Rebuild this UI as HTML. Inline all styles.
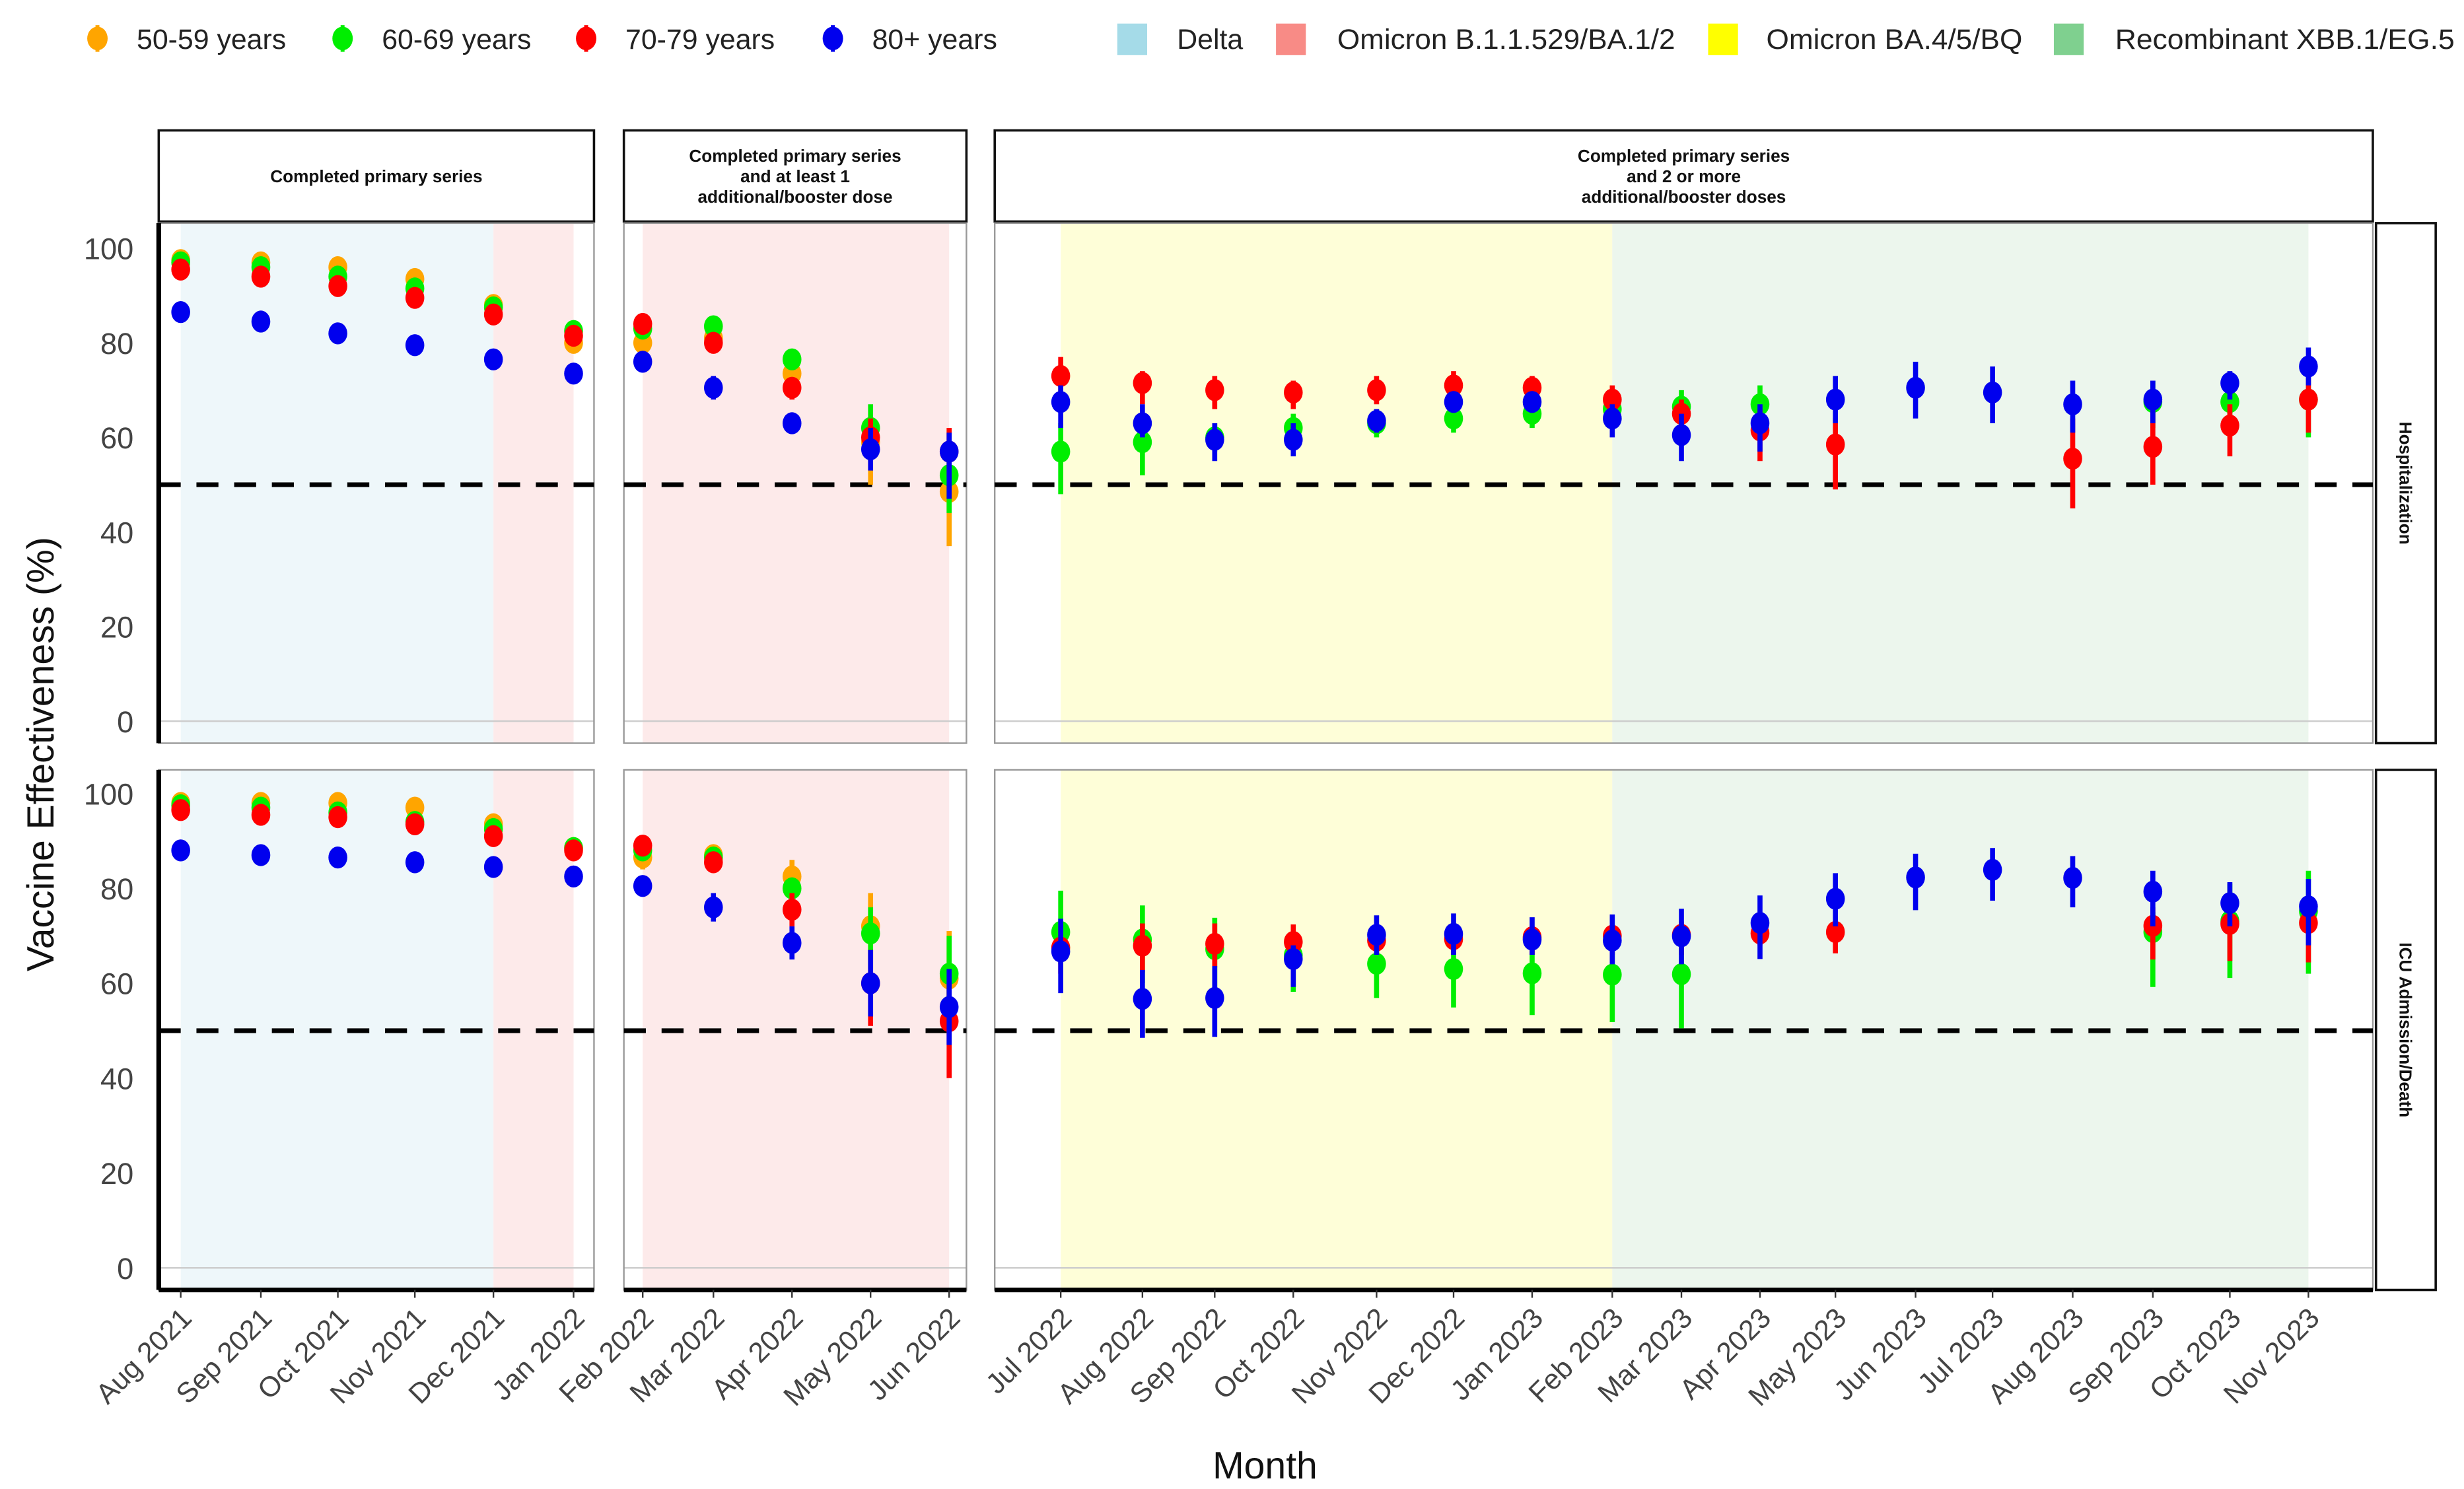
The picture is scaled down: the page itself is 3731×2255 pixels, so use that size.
<!DOCTYPE html>
<html><head><meta charset="utf-8"><style>
html,body{margin:0;padding:0;background:#fff}
svg{display:block;font-family:"Liberation Sans",Arial,sans-serif}
</style></head><body>
<svg id="c" width="3731" height="2255" viewBox="0 0 1568 947.7" xmlns="http://www.w3.org/2000/svg">
<g id="legend"></g>
<g id="panels"></g>
<text x="805" y="941" font-size="24" text-anchor="middle" fill="#111">Month</text>
<text transform="translate(34,480) rotate(-90)" font-size="24" text-anchor="middle" fill="#111">Vaccine Effectiveness (%)</text>
</svg>
<script>
const months=["Aug 2021","Sep 2021","Oct 2021","Nov 2021","Dec 2021","Jan 2022","Feb 2022","Mar 2022","Apr 2022","May 2022","Jun 2022","Jul 2022","Aug 2022","Sep 2022","Oct 2022","Nov 2022","Dec 2022","Jan 2023","Feb 2023","Mar 2023","Apr 2023","May 2023","Jun 2023","Jul 2023","Aug 2023","Sep 2023","Oct 2023","Nov 2023"];
const yTicks=[0,20,40,60,80,100];
const N=null;
// Hospitalization
const hO=[97.5,97,96,93.5,88,80,80,81,73.5,59,48.5,N,N,N,N,N,N,N,N,N,N,N,N,N,N,N,N,N];
const hOlo=[97,96.5,95.5,93,87.5,79,79,79,72,50,37,N,N,N,N,N,N,N,N,N,N,N,N,N,N,N,N,N];
const hOhi=[98,97.5,96.5,94,88.5,81,81,83,75,63,62,N,N,N,N,N,N,N,N,N,N,N,N,N,N,N,N,N];
const hG=[97,96,94,91.5,87.5,82.5,83,83.5,76.5,62,52,57,59,60,62,63,64,65,66,66.5,67,N,N,N,N,67.5,67.5,68];
const hGlo=[96.5,95.5,93.5,91,87,82,82,82.5,75,57,44,48,52,57,58,60,61,62,63,63,63,N,N,N,N,62,64,60];
const hGhi=[97.5,96.5,94.5,92,88,83,84,84.5,78,67,56,63,64,63,65,66,67,68,69,70,71,N,N,N,N,72,70,75];
const hR=[95.5,94,92,89.5,86,81.5,84,80,70.5,60,57,73,71.5,70,69.5,70,71,70.5,68,65,61.5,58.5,N,N,55.5,58,62.5,68];
const hRlo=[94.8,93.3,91.3,88.8,85.3,80.8,83,78,68,55,52,69,67,66,66,67,68,67,64,62,55,49,N,N,45,50,56,61];
const hRhi=[96.2,94.7,92.7,90.2,86.7,82.2,85,82,72,64,62,77,74,73,72,73,74,73,71,68,66,64,N,N,64,66,67,75];
const hB=[86.5,84.5,82,79.5,76.5,73.5,76,70.5,63,57.5,57,67.5,63,59.5,59.5,63.5,67.5,67.5,64,60.5,63,68,70.5,69.5,67,68,71.5,75];
const hBlo=[85.5,83.5,81,78.5,75.5,72.5,75,68,61,53,47,62,60,55,56,61,66,66,60,55,57,63,64,63,61,63,68,71];
const hBhi=[87.5,85.5,83,80.5,77.5,74.5,77,73,65,62,61,71,67,63,63,66,69,69,67,65,67,73,76,75,72,72,74,79];
// ICU admission / death
const iO=[98,98,98,97,93.5,88.5,86.5,87,82.5,72,61,N,N,N,N,N,N,N,N,N,N,N,N,N,N,N,N,N];
const iOlo=[97.5,97.5,97.5,96.5,93,88,84,85,79,65,49,N,N,N,N,N,N,N,N,N,N,N,N,N,N,N,N,N];
const iOhi=[98.5,98.5,98.5,97.5,94,89,88,89,86,79,71,N,N,N,N,N,N,N,N,N,N,N,N,N,N,N,N,N];
const iG=[97.5,97,96,94,92.5,88.5,88,86.5,80,70.5,62,70.8,69.2,67.2,65.9,64.1,63,62.1,61.8,61.9,N,N,N,N,N,70.8,73.1,75.2];
const iGlo=[97,96.5,95.5,93.5,92,88,87,85.5,78.5,63,53,64,60,58,58.2,56.9,54.9,53.3,51.8,50.5,N,N,N,N,N,59.2,61.1,62];
const iGhi=[98,97.5,96.5,94.5,93,89,89,87.5,81.5,76,70,79.5,76.4,73.8,68,70,68,68,68,68,N,N,N,N,N,75,81,83.7];
const iR=[96.5,95.5,95,93.5,91,88,89,85.5,75.5,60,52,67.5,67.9,68.3,68.7,69,69.3,69.7,70,70.2,70.5,70.8,N,N,N,72.1,72.5,72.7];
const iRlo=[96,95,94.5,93,90.5,87.5,88,84,72,51,40,62,62.3,63.3,65,66,66,66,66,66,68,66.3,N,N,N,65,64.7,64.4];
const iRhi=[97,96,95.5,94,91.5,88.5,90,87,79,67,59,72,72.6,72.6,72.4,72,72,72,72.5,73,72.5,73,N,N,N,76,78,76];
const iB=[88,87,86.5,85.5,84.5,82.5,80.5,76,68.5,60,55,66.7,56.7,56.9,65.1,70.2,70.4,69.2,69,69.9,72.7,77.8,82.3,83.9,82.2,79.3,76.9,76.2];
const iBlo=[86,86,85.5,84.5,83.5,81.5,79,73,65,53,47,57.9,48.5,48.7,59.2,66,66,66,64,64,65.1,72,75.4,77.4,76,72,72,68];
const iBhi=[90,88,87.5,86.5,85.5,83.5,82,79,72,67,63,73.6,62.8,63.6,68,74.3,74.7,73.9,74.5,75.7,78.5,83.2,87.3,88.5,86.8,83.7,81.3,82];
const threshold=50;

const NS="http://www.w3.org/2000/svg";
function mk(tag,attrs,parent){const e=document.createElementNS(NS,tag);for(const k in attrs)e.setAttribute(k,attrs[k]);parent.appendChild(e);return e;}
const monthX=[115,166,215,264,314,365,409,454,504,554,604,675,727,773,823,876,925,975,1026,1070,1120,1168,1219,1268,1319,1370,1419,1469];
function xScale(i){return monthX[i];}
const rows=[{top:142,bot:473,y0:459,y100:158,label:"Hospitalization"},{top:490,bot:821,y0:807,y100:505,label:"ICU Admission/Death"}];
function yScale(r,v){return r.y0-(r.y0-r.y100)*v/100;}
const panels=[{x0:101,x1:378,strip:["Completed primary series"]},{x0:397,x1:615,strip:["Completed primary series","and at least 1","additional/booster dose"]},{x0:633,x1:1510,strip:["Completed primary series","and 2 or more","additional/booster doses"]}];
const bands=[{a:115,b:314,c:"#eef7fa"},{a:314,b:365,c:"#fdeaea"},{a:409,b:604,c:"#fdeaea"},{a:675,b:1026,c:"#fefed8"},{a:1026,b:1469,c:"#ecf6ed"}];
const colors={o:"#ffa500",g:"#00ee00",r:"#ff0000",b:"#0000ee"};

const leg=document.getElementById('legend');
[["o","50-59 years",62],["g","60-69 years",218],["r","70-79 years",373],["b","80+ years",530]].forEach(([k,t,x])=>{
  const g=mk('g',{},leg);
  
  
  mk('line',{x1:x,x2:x,y1:16,y2:33,stroke:colors[k],'stroke-width':2.5},g);
  mk('ellipse',{cx:x,cy:24.5,rx:6.5,ry:7.5,fill:colors[k]},g);
  const tx=mk('text',{x:x+25,y:31,'font-size':18,fill:'#222'},g);tx.textContent=t;
});
[["#a5dbe8","Delta",711,749,42],["#f88b86","Omicron B.1.1.529/BA.1/2",812,851,215],["#ffff00","Omicron BA.4/5/BQ",1087,1124,163],["#7fd08f","Recombinant XBB.1/EG.5",1307,1346,216]].forEach(([c,t,x,tx0,tl])=>{
  const g=mk('g',{},leg);
  
  
  mk('rect',{x:x,y:15,width:19,height:20,fill:c},g);
  const tt=mk('text',{x:tx0,y:31,'font-size':18,fill:'#222',textLength:tl,lengthAdjust:'spacingAndGlyphs'},g);tt.textContent=t;
});

const P=document.getElementById('panels');
const series=[[["o",hO,hOlo,hOhi],["g",hG,hGlo,hGhi],["r",hR,hRlo,hRhi],["b",hB,hBlo,hBhi]],[["o",iO,iOlo,iOhi],["g",iG,iGlo,iGhi],["r",iR,iRlo,iRhi],["b",iB,iBlo,iBhi]]];
const ranges=[[0,5],[6,10],[11,27]];
panels.forEach((p,pi)=>{
  const s=mk('g',{},P);
  
  
  mk('rect',{x:p.x0,y:83,width:p.x1-p.x0,height:58,fill:'#fff',stroke:'#111','stroke-width':1.5},s);
  const n=p.strip.length,cy=112-(n-1)*6.5;
  p.strip.forEach((l,li)=>{const t=mk('text',{x:(p.x0+p.x1)/2,y:cy+li*13+4,'font-size':11,'font-weight':'bold','text-anchor':'middle',fill:'#111'},s);t.textContent=l;});
});
rows.forEach((r,ri)=>{
  panels.forEach((p,pi)=>{
    const g=mk('g',{},P);
    
    
    bands.forEach(b=>{if(b.a>=p.x0&&b.b<=p.x1)mk('rect',{x:b.a,y:r.top,width:b.b-b.a,height:r.bot-r.top,fill:b.c},g);});
    mk('line',{x1:p.x0,x2:p.x1,y1:yScale(r,0),y2:yScale(r,0),stroke:'#ccc','stroke-width':1},g);
    mk('rect',{x:p.x0,y:r.top,width:p.x1-p.x0,height:r.bot-r.top,fill:'none',stroke:'#999','stroke-width':1},g);
    mk('line',{x1:p.x0,x2:p.x1,y1:yScale(r,threshold),y2:yScale(r,threshold),stroke:'#000','stroke-width':3,'stroke-dasharray':'14,10'},g);
    if(ri===1)mk('line',{x1:p.x0,x2:p.x1,y1:r.bot,y2:r.bot,stroke:'#000','stroke-width':3},g);
    series[ri].forEach(([k,v,lo,hi])=>{
      for(let i=ranges[pi][0];i<=ranges[pi][1];i++){
        if(v[i]==null)continue;
        const x=xScale(i);
        const e=mk('line',{x1:x,x2:x,y1:yScale(r,lo[i]),y2:yScale(r,hi[i]),stroke:colors[k],'stroke-width':3.2},g);
        
        
        const d=mk('ellipse',{cx:x,cy:yScale(r,v[i]),rx:6,ry:7,fill:colors[k]},g);
        
        
      }
    });
  });
  mk('line',{x1:101,x2:101,y1:r.top,y2:r.bot,stroke:'#000','stroke-width':3},P);
  const rs=mk('g',{},P);
  
  
  mk('rect',{x:1512,y:r.top,width:38,height:r.bot-r.top,fill:'#fff',stroke:'#111','stroke-width':1.5},rs);
  const t=mk('text',{transform:`translate(1527,${(r.top+r.bot)/2}) rotate(90)`,'font-size':11,'font-weight':'bold','text-anchor':'middle',fill:'#111'},rs);t.textContent=r.label;
  yTicks.forEach(v=>{
    const tt=mk('text',{x:85,y:yScale(r,v)+7,'font-size':19,'text-anchor':'end',fill:'#444'},P);
    
    
    tt.textContent=v;
  });
});
months.forEach((m,i)=>{
  const x=xScale(i);
  mk('line',{x1:x,x2:x,y1:821,y2:826,stroke:'#333','stroke-width':1},P);
  const t=mk('text',{transform:`translate(${x+8},${840}) rotate(-45)`,'font-size':18,'text-anchor':'end',fill:'#444'},P);
  
  
  t.textContent=m;
});
</script>
</body></html>
